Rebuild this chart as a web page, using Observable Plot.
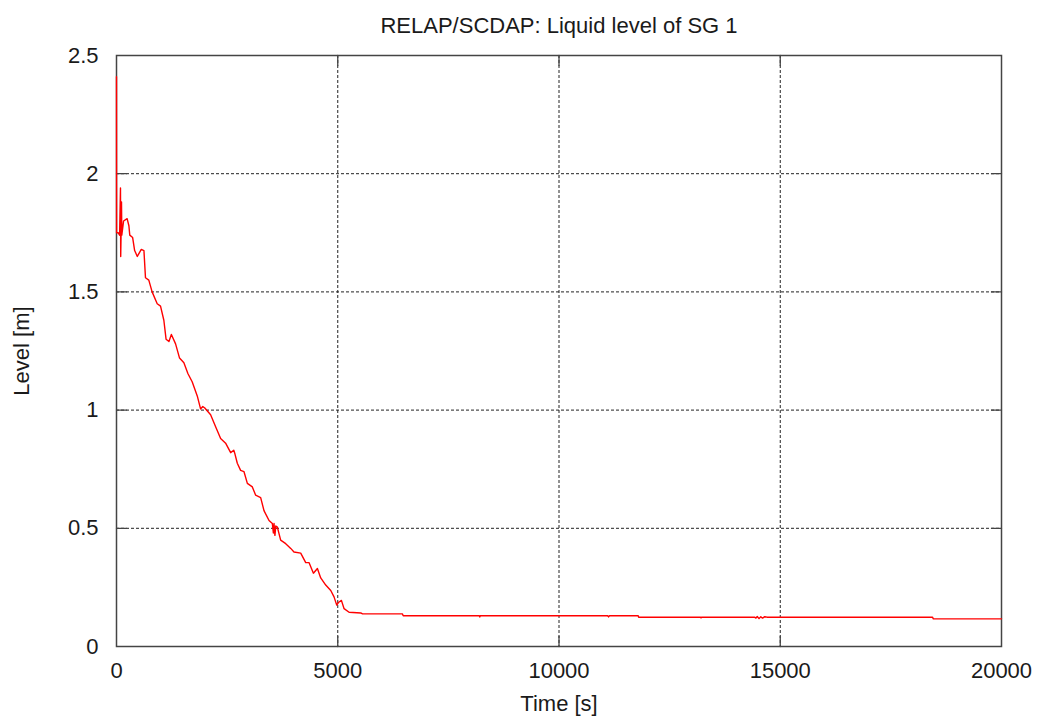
<!DOCTYPE html>
<html>
<head>
<meta charset="utf-8">
<script src="https://cdn.jsdelivr.net/npm/d3@7"></script>
<script src="https://cdn.jsdelivr.net/npm/@observablehq/plot@0.6"></script>
<style>
  html, body { margin: 0; padding: 0; background: #fff; }
</style>
</head>
<body>
<div id="chart"></div>
<script>
const title = "RELAP/SCDAP: Liquid level of SG 1";
const xLabel = "Time [s]";
const yLabel = "Level [m]";
const xTicks = [0, 5000, 10000, 15000, 20000];
const yTicks = [0, 0.5, 1, 1.5, 2, 2.5];

const timeS = [
  0, 2, 40, 70, 90, 95, 105, 113, 120, 160, 240, 280, 300, 365, 410, 470, 560, 620,
  655, 730, 805, 920, 995, 1070, 1120, 1185, 1240, 1335, 1425, 1523, 1613, 1710,
  1825, 1900, 1950, 1990, 2127, 2240, 2353, 2466, 2580, 2650, 2676, 2730, 2805,
  2880, 2957, 3070, 3145, 3258, 3333, 3447, 3522, 3545, 3560, 3580, 3600, 3635,
  3710, 3824, 3937, 4011, 4163, 4276, 4350, 4450, 4540, 4615, 4728, 4842, 4916,
  4977, 5015, 5083, 5143, 5256, 5520, 5560, 6460, 6480, 8200, 8210, 8220, 11100,
  11120, 11140, 11790, 11800, 13200, 13210, 13220, 14420, 14450, 14480, 14520,
  14560, 14600, 14650, 14700, 18440, 18460, 20000
];
const levelM = [
  2.41, 1.75, 1.75, 1.74, 1.94, 1.65, 1.76, 1.88, 1.74, 1.80, 1.81, 1.78, 1.74, 1.73,
  1.675, 1.65, 1.68, 1.675, 1.56, 1.55, 1.50, 1.45, 1.44, 1.38, 1.30, 1.29, 1.32,
  1.28, 1.22, 1.20, 1.155, 1.12, 1.06, 1.005, 1.015, 1.01, 0.98, 0.93, 0.88, 0.86,
  0.82, 0.83, 0.815, 0.775, 0.745, 0.74, 0.69, 0.675, 0.64, 0.63, 0.575, 0.533,
  0.52, 0.48, 0.52, 0.47, 0.51, 0.505, 0.45, 0.435, 0.415, 0.40, 0.395, 0.355,
  0.355, 0.31, 0.33, 0.29, 0.26, 0.237, 0.21, 0.175, 0.186, 0.195, 0.16, 0.145,
  0.142, 0.138, 0.138, 0.130, 0.130, 0.125, 0.130, 0.130, 0.125, 0.130, 0.130,
  0.124, 0.124, 0.121, 0.124, 0.124, 0.120, 0.127, 0.118, 0.126, 0.120, 0.126,
  0.124, 0.124, 0.117, 0.117
];

const data = timeS.map((t, i) => ({t, v: levelM[i]}));
const xInner = xTicks.slice(1, -1);
const yInner = yTicks.slice(1, -1);
const tickShape = {draw(ctx, l) { ctx.moveTo(0, 0); ctx.lineTo(0, -l); }};
const frameColor = "#444";
const gridStyle = {stroke: "#222", strokeOpacity: 1, strokeWidth: 1, strokeDasharray: "3,2"};
const tickStyle = {length: 10, anchor: "start", shape: tickShape, stroke: frameColor, strokeWidth: 1.3};
const textColor = "#1a1a1a";

const chart = Plot.plot({
  width: 1044,
  height: 720,
  marginLeft: 116,
  marginRight: 43,
  marginTop: 55,
  marginBottom: 74,
  style: {fontFamily: "'Liberation Sans', Arial, sans-serif", fontSize: "22px", color: textColor, background: "#fff"},
  x: {domain: [0, 20000]},
  y: {domain: [0, 2.5]},
  marks: [
    Plot.gridX(xInner, gridStyle),
    Plot.gridY(yInner, gridStyle),
    Plot.vector(xInner, {x: d => d, frameAnchor: "bottom", rotate: 0, ...tickStyle}),
    Plot.vector(xInner, {x: d => d, frameAnchor: "top", rotate: 180, ...tickStyle}),
    Plot.vector(yInner, {y: d => d, frameAnchor: "left", rotate: 90, ...tickStyle}),
    Plot.vector(yInner, {y: d => d, frameAnchor: "right", rotate: -90, ...tickStyle}),
    Plot.frame({stroke: frameColor, strokeWidth: 1.5}),
    Plot.line(data, {x: "t", y: "v", stroke: "#ff0000", strokeWidth: 1.4}),
    Plot.axisX(xTicks, {tickSize: 0, tickPadding: 16, fontSize: 22, label: null, tickFormat: d => String(d)}),
    Plot.axisY(yTicks, {tickSize: 0, tickPadding: 18, fontSize: 22, label: null, tickFormat: d => String(d)}),
    Plot.text([title], {frameAnchor: "top", lineAnchor: "middle", textAnchor: "middle", dy: -30, fontSize: 22, fill: textColor}),
    Plot.text([xLabel], {frameAnchor: "bottom", lineAnchor: "middle", textAnchor: "middle", dy: 57, fontSize: 22, fill: textColor}),
    Plot.text([yLabel], {frameAnchor: "left", lineAnchor: "middle", textAnchor: "middle", dx: -95, rotate: -90, fontSize: 22, fill: textColor})
  ]
});
document.getElementById("chart").appendChild(chart);
</script>
</body>
</html>
